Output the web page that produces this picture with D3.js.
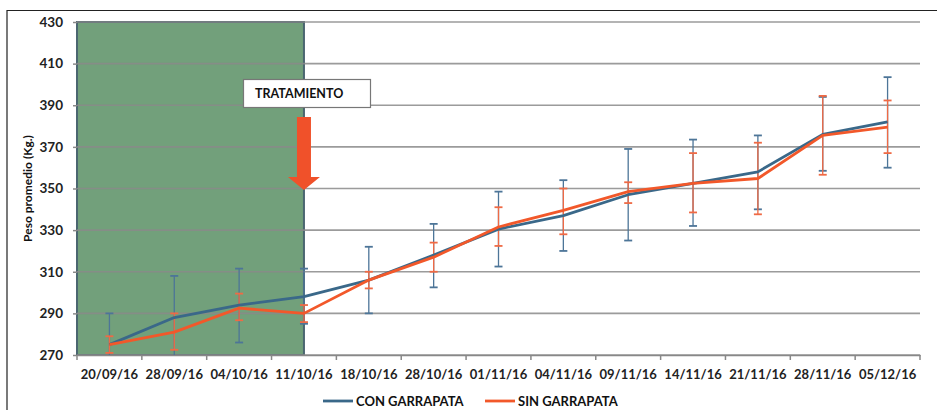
<!DOCTYPE html>
<html><head><meta charset="utf-8">
<script src="https://cdn.jsdelivr.net/npm/d3@7"></script>
<style>body{margin:0;background:#fff}svg{display:block;font-family:Lato,"Open Sans",sans-serif}</style>
</head><body><svg id="c" width="937" height="410"></svg>
<script>
const categories = ["20/09/16","28/09/16","04/10/16","11/10/16","18/10/16","28/10/16","01/11/16","04/11/16","09/11/16","14/11/16","21/11/16","28/11/16","05/12/16"];
const conValues = [275,288,294,298,306,318,330.5,337,347,352.5,358,376,382];
const conHigh   = [290,308,311.5,311.5,322,333,348.5,354,369,373.5,375.5,394,403.5];
const conLow    = [260,268,276,285,290,302.5,312.5,320,325,332,340,358.5,360];
const sinValues = [275,281,292.5,290,306,317,331.5,339.5,348.5,352.5,354.8,375.5,379.5];
const sinHigh   = [279,290,299.5,294,310,324,341,350,353,367,372,394.5,392.3];
const sinLow    = [271,272.5,286.7,285.8,302,310,322.4,328,343,338.5,337.6,356.6,367];
const yTicks = [270,290,310,330,350,370,390,410,430];
const seriesNames = ["CON GARRAPATA","SIN GARRAPATA"];
const colors = {con:"#3a6889", sin:"#f2582a", conErr:"#4d7598", sinErr:"#ef6a45"};

const svg = d3.select("#c");
const L=77, R=920, T=22, B=355;
const x = d3.scaleBand().domain(categories).range([L,R]).padding(0);
const y = d3.scaleLinear().domain([270,430]).range([B,T]);
const cx = d => x(d)+x.bandwidth()/2;

// outer frame
svg.append("path").attr("d",`M7,410V10.5H937`).attr("fill","none").attr("stroke","#222").attr("stroke-width",1.2);

svg.append("defs").append("clipPath").attr("id","clip").append("rect").attr("x",L).attr("y",T-2).attr("width",R-L+2).attr("height",B-T+2);

// treatment shaded region
svg.append("rect").attr("x",L).attr("y",y(430)).attr("width",cx("11/10/16")-L).attr("height",y(270)-y(430))
  .attr("fill","#72a07b").attr("stroke","#4b6670").attr("stroke-width",2);

// gridlines
svg.append("g").selectAll("line").data(yTicks).join("line")
  .attr("x1",L).attr("x2",R).attr("y1",d=>y(d)).attr("y2",d=>y(d))
  .attr("stroke","#8a8a8a").attr("stroke-width",1.6).attr("stroke-opacity",0.85);

// y axis
const ya = svg.append("g").attr("transform",`translate(${L},0)`)
  .call(d3.axisLeft(y).tickValues(yTicks).tickSize(4).tickPadding(10).tickFormat(d3.format("d")));
ya.select(".domain").remove();
ya.selectAll(".tick line").attr("stroke","#888").attr("stroke-width",1.5);
ya.selectAll("text").attr("font-size",13.5).attr("font-weight","bold").attr("fill","#222").attr("font-family","Lato,sans-serif");

// x axis
const xa = svg.append("g").attr("transform",`translate(0,${B})`)
  .call(d3.axisBottom(x).tickSize(0).tickPadding(15));
xa.select(".domain").attr("stroke","#888").attr("stroke-width",1.6);
xa.selectAll("text").attr("font-size",13).attr("font-weight","bold").attr("fill","#222").attr("font-family","Lato,sans-serif");
const bounds = categories.map(c=>x(c)).concat([R]);
xa.selectAll(".bt").data(bounds).join("line").attr("class","bt")
  .attr("x1",d=>d).attr("x2",d=>d).attr("y1",0).attr("y2",5).attr("stroke","#888").attr("stroke-width",1.5);

// y title
svg.append("text").attr("transform",`translate(32,${(T+B)/2}) rotate(-90)`).attr("text-anchor","middle")
  .attr("font-size",12).attr("font-weight","bold").attr("fill","#111").text("Peso promedio (Kg.)");

// error bars
const plot = svg.append("g").attr("clip-path","url(#clip)");
function errBars(hi, lo, col, cls){
  const g = plot.append("g").attr("stroke",col).attr("stroke-width",1.3);
  categories.forEach((c,i)=>{
    const X = cx(c);
    g.append("line").attr("x1",X).attr("x2",X).attr("y1",y(hi[i])).attr("y2",y(lo[i]));
    g.append("line").attr("x1",X-4).attr("x2",X+4).attr("y1",y(hi[i])).attr("y2",y(hi[i])).attr("stroke-width",1.8);
    g.append("line").attr("x1",X-4).attr("x2",X+4).attr("y1",y(lo[i])).attr("y2",y(lo[i])).attr("stroke-width",1.8);
  });
}
errBars(conHigh, conLow, colors.conErr);
errBars(sinHigh, sinLow, colors.sinErr);

const line = d3.line().x((d,i)=>cx(categories[i])).y(d=>y(d));
plot.append("path").datum(conValues).attr("d",line).attr("fill","none").attr("stroke",colors.con).attr("stroke-width",2.8).attr("stroke-linejoin","round");
plot.append("path").datum(sinValues).attr("d",line).attr("fill","none").attr("stroke",colors.sin).attr("stroke-width",2.8).attr("stroke-linejoin","round");

// annotation
svg.append("rect").attr("x",243.5).attr("y",79.5).attr("width",127).attr("height",28).attr("fill","#fff").attr("stroke","#777").attr("stroke-width",1.2);
svg.append("text").attr("x",255).attr("y",98).attr("font-size",12.5).attr("font-weight","bold").attr("fill","#111").text("TRATAMIENTO");
const ax = cx("11/10/16");
svg.append("path").attr("d",`M${ax-7},117H${ax+7}V177H${ax+16}L${ax},190L${ax-16},177H${ax-7}Z`).attr("fill","#f0512a");

// legend
const leg = svg.append("g");
[[323,356,colors.con],[485,518,colors.sin]].forEach((p,i)=>{
  leg.append("line").attr("x1",p[0]).attr("x2",p[0]+30).attr("y1",401).attr("y2",401).attr("stroke",p[2]).attr("stroke-width",2.8);
  leg.append("text").attr("x",p[1]).attr("y",406).attr("font-size",13).attr("font-weight","bold").attr("fill","#111").text(seriesNames[i]);
});
</script></body></html>
